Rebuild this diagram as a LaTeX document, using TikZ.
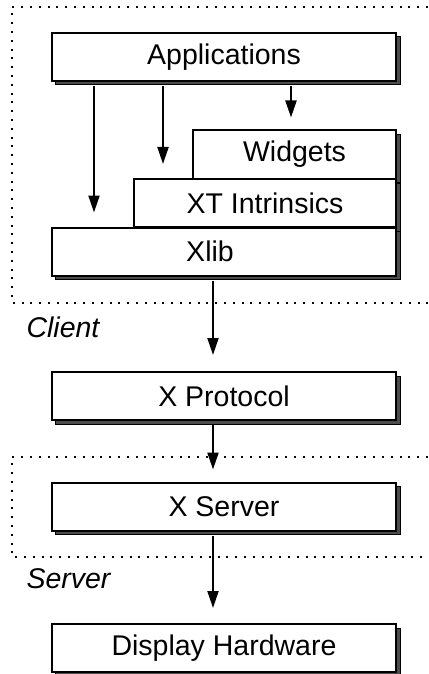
\documentclass[tikz,border=0pt]{standalone}
\usepackage{fontspec}
\setmainfont{Liberation Sans}
\usetikzlibrary{positioning, arrows.meta, shadows}

\begin{document}
\begin{tikzpicture}[x=1bp, y=-1bp,
                    layer/.style={draw, line width=2bp, fill=white, inner sep=0pt,
                                  minimum height=48bp,
                                  font=\fontsize{28.5bp}{32bp}\selectfont,
                                  drop shadow={shadow xshift=4bp, shadow yshift=-4bp,
                                               fill=black!70, draw=black, line width=1bp, opacity=1}},
                    carrow/.style={-{Triangle[width=11bp,length=17bp]}, line width=2bp,
                                   shorten <=4bp, shorten >=14bp},
                    zone/.style={line width=2bp, dash pattern=on 2bp off 6.8bp},
                    zonelabel/.style={anchor=base west, font=\fontsize{28.5bp}{32bp}\selectfont\itshape}]
    \useasboundingbox (0,0) rectangle (428,674);
    % client and server areas
    \draw[zone] (428,7) -| (12,303) -- (428,303);
    \draw[zone] (428,457) -| (12,557) -- (428,557);
    \node[zonelabel] (client) at (23,337) {Client};
    \node[zonelabel] (server) at (23,588) {Server};
    % layers
    \node[layer, minimum width=344bp] (apps) at (224,57) {Applications};
    \node[layer, minimum width=203bp] (widgets) at (294.5,154.5) {Widgets};
    \node[layer, minimum width=262bp] (xt) at (265,203) {XT Intrinsics};
    \node[layer, minimum width=344bp] (xlib) at (224,251.5) {\hspace*{-28bp}Xlib};
    \node[layer, minimum width=344bp] (proto) at (224,396) {X Protocol};
    \node[layer, minimum width=344bp] (xserv) at (224,506.5) {X Server};
    \node[layer, minimum width=344bp] (disp) at (224,648) {Display Hardware};
    % calls
    \coordinate (a1) at ([xshift=-130bp]apps.south);
    \coordinate (a2) at ([xshift=-61bp]apps.south);
    \coordinate (a3) at ([xshift=67bp]apps.south);
    \draw[carrow] (a1) -- (a1 |- xlib.north);
    \draw[carrow] (a2) -- (a2 |- xt.north);
    \draw[carrow, shorten >=12bp] (a3) -- (a3 |- widgets.north);
    \draw[carrow, shorten >=16bp] ([xshift=-11bp]xlib.south) -- ([xshift=-11bp]proto.north);
    \draw[carrow, shorten >=12bp] ([xshift=-11bp]proto.south) -- ([xshift=-11bp]xserv.north);
    \draw[carrow, shorten >=15bp] ([xshift=-11bp]xserv.south) -- ([xshift=-11bp]disp.north);
\end{tikzpicture}
\end{document}
